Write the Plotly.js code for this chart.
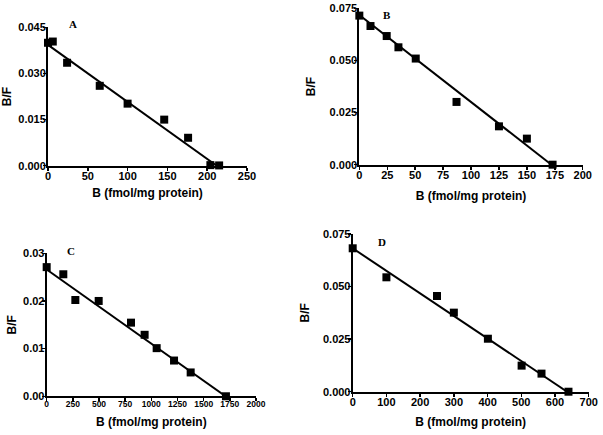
<!DOCTYPE html>
<html>
<head>
<meta charset="utf-8">
<script src="https://cdn.plot.ly/plotly-3.0.1.min.js"></script>
<style>html,body{margin:0;padding:0;background:#fff;}#chart{width:603px;height:435px;}</style>
</head>
<body>
<div id="chart"></div>
<script>
// Panel A
var aB = [0, 6, 24, 65, 100, 146, 176, 204, 215];
var aBF = [0.0400, 0.0404, 0.0335, 0.0260, 0.0202, 0.0150, 0.0091, 0.0002, 0.0001];
var aFitB = [0, 212];
var aFitBF = [0.0393, 0];
// Panel B
var bB = [0, 10, 24.5, 35, 50.5, 87, 125, 150, 173];
var bBF = [0.0715, 0.0665, 0.0617, 0.0563, 0.0509, 0.0301, 0.0184, 0.0125, 0.0];
var bFitB = [0, 172];
var bFitBF = [0.0718, 0];
// Panel C
var cB = [0, 159, 274, 497, 806, 936, 1051, 1217, 1376, 1713];
var cBF = [0.0271, 0.0256, 0.0202, 0.0200, 0.01545, 0.0129, 0.0101, 0.0075, 0.0050, 0.0];
var cFitB = [0, 1710];
var cFitBF = [0.0266, 0];
// Panel D
var dB = [0, 100, 250, 300, 401, 501, 560, 640];
var dBF = [0.0682, 0.0544, 0.0455, 0.0376, 0.0252, 0.0124, 0.0086, 0.0];
var dFitB = [0, 636];
var dFitBF = [0.0682, 0];

var panelLabels = ['A', 'B', 'C', 'D'];
var xTitle = 'B (fmol/mg protein)';
var yTitle = 'B/F';

var FAM = 'Liberation Sans, Arial, sans-serif';
var font = {family: FAM, size: 11, color: '#000', weight: 'bold'};
var fontSmall = {family: FAM, size: 8.5, color: '#000', weight: 'bold'};

function pts(x, y, xa, ya) {
  return {x: x, y: y, xaxis: xa, yaxis: ya, type: 'scatter', mode: 'markers',
    marker: {symbol: 'square', size: 8, color: '#000'}, cliponaxis: false, hoverinfo: 'none'};
}
function fit(x, y, xa, ya) {
  return {x: x, y: y, xaxis: xa, yaxis: ya, type: 'scatter', mode: 'lines',
    line: {color: '#000', width: 2}, cliponaxis: false, hoverinfo: 'none'};
}

var data = [
  fit(aFitB, aFitBF, 'x', 'y'), pts(aB, aBF, 'x', 'y'),
  fit(bFitB, bFitBF, 'x2', 'y2'), pts(bB, bBF, 'x2', 'y2'),
  fit(cFitB, cFitBF, 'x3', 'y3'), pts(cB, cBF, 'x3', 'y3'),
  fit(dFitB, dFitBF, 'x4', 'y4'), pts(dB, dBF, 'x4', 'y4')
];

function xax(domain, range, dtick, anchor, standoff, tf) {
  return {domain: domain, range: range, dtick: dtick, tick0: 0, anchor: anchor,
    showline: true, linewidth: 2, linecolor: '#000', showgrid: false, zeroline: false,
    ticks: 'outside', ticklen: 3, tickwidth: 1.5, tickcolor: '#000', tickfont: tf || font,
    tickangle: 0, ticklabelstandoff: -4,
    title: {text: xTitle, font: {family: FAM, size: 12, color: '#000', weight: 'bold'}, standoff: standoff},
    automargin: false, fixedrange: true};
}
function yax(domain, range, dtick, fmt, anchor, standoff) {
  return {domain: domain, range: range, dtick: dtick, tick0: 0, tickformat: fmt, anchor: anchor,
    showline: true, linewidth: 2, linecolor: '#000', showgrid: false, zeroline: false,
    ticks: 'outside', ticklen: 3, tickwidth: 1.5, tickcolor: '#000', tickfont: font,
    ticklabelstandoff: -5,
    title: {text: yTitle, font: {family: FAM, size: 12, color: '#000', weight: 'bold'}, standoff: standoff},
    automargin: false, fixedrange: true};
}

function lab(text, x, y) {
  return {text: text, x: x, y: y, xref: 'paper', yref: 'paper', showarrow: false,
    xanchor: 'center', yanchor: 'middle',
    font: {family: 'Liberation Serif, Times New Roman, serif', size: 11, color: '#000', weight: 'bold'}};
}

var layout = {
  width: 603, height: 435,
  margin: {l: 0, r: 0, t: 0, b: 0},
  paper_bgcolor: '#fff', plot_bgcolor: '#fff',
  showlegend: false,
  xaxis: xax([0.0796, 0.4096], [0, 250], 50, 'y', 8),
  yaxis: yax([0.619, 0.937], [0, 0.045], 0.015, '.3f', 'x', 4),
  xaxis2: xax([0.5959, 0.9664], [0, 200], 25, 'y2', 12),
  yaxis2: yax([0.6214, 0.9809], [0, 0.075], 0.025, '.3f', 'x2', 11),
  xaxis3: xax([0.0774, 0.4245], [0, 2000], 250, 'y3', 9, fontSmall),
  yaxis3: yax([0.0890, 0.4177], [0, 0.03], 0.01, '.2f', 'x3', 4),
  xaxis4: xax([0.5849, 0.9763], [0, 700], 100, 'y4', 11),
  yaxis4: yax([0.0995, 0.4621], [0, 0.075], 0.025, '.3f', 'x4', 11),
  annotations: [
    lab(panelLabels[0], 73 / 603, 1 - 24 / 435),
    lab(panelLabels[1], 387 / 603, 1 - 15 / 435),
    lab(panelLabels[2], 71 / 603, 1 - 251 / 435),
    lab(panelLabels[3], 382 / 603, 1 - 242 / 435)
  ]
};

Plotly.newPlot('chart', data, layout, {staticPlot: true, displayModeBar: false});
</script>
</body>
</html>
